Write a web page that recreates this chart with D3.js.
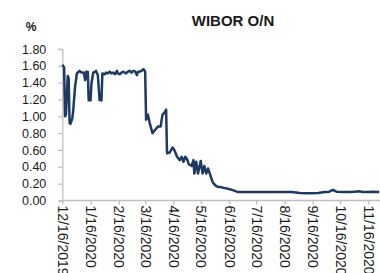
<!DOCTYPE html>
<html><head><meta charset="utf-8">
<script src="https://cdn.jsdelivr.net/npm/d3@7"></script>
<style>
html,body{margin:0;padding:0;background:#fff;overflow:hidden;}
svg{display:block;font-family:"Liberation Sans",Arial,sans-serif;}
</style></head>
<body>
<svg id="chart" width="380" height="273"></svg>
<script>
const title = "WIBOR O/N";
const unitLabel = "%";
const dates = [
"2019-12-16","2019-12-17","2019-12-18","2019-12-19","2019-12-20","2019-12-22","2019-12-23","2019-12-24","2019-12-25","2019-12-27","2019-12-28","2019-12-30",
"2020-01-01","2020-01-03","2020-01-04","2020-01-06","2020-01-08","2020-01-09","2020-01-10","2020-01-11","2020-01-12","2020-01-13","2020-01-14","2020-01-16","2020-01-17","2020-01-19","2020-01-21","2020-01-22","2020-01-24","2020-01-26","2020-01-27","2020-01-28","2020-01-29",
"2020-02-01","2020-02-02","2020-02-04","2020-02-06","2020-02-08","2020-02-10","2020-02-12","2020-02-14","2020-02-15","2020-02-17","2020-02-19","2020-02-21","2020-02-24","2020-02-26","2020-02-28",
"2020-03-01","2020-03-03","2020-03-05","2020-03-07","2020-03-08","2020-03-10","2020-03-12","2020-03-14","2020-03-15","2020-03-16","2020-03-17","2020-03-19","2020-03-21","2020-03-24","2020-03-27","2020-03-30",
"2020-04-02","2020-04-04","2020-04-06","2020-04-08","2020-04-09","2020-04-12","2020-04-15","2020-04-17","2020-04-20","2020-04-23","2020-04-25","2020-04-27","2020-04-29",
"2020-05-01","2020-05-03","2020-05-06","2020-05-08","2020-05-09","2020-05-11","2020-05-13","2020-05-16","2020-05-18","2020-05-20","2020-05-22","2020-05-24","2020-05-26","2020-05-29",
"2020-06-01","2020-06-04","2020-06-07","2020-06-10","2020-06-15","2020-06-21","2020-06-26",
"2020-07-02","2020-07-15","2020-07-28","2020-08-10","2020-08-17","2020-08-24","2020-09-02","2020-09-08","2020-09-13","2020-09-22","2020-09-29",
"2020-10-03","2020-10-08","2020-10-12","2020-10-20","2020-10-27","2020-11-01","2020-11-06","2020-11-10","2020-11-15","2020-11-21","2020-11-28"
];
const values = [
1.61,1.60,1.58,1.00,1.02,1.48,1.45,0.92,0.91,0.98,1.07,1.35,
1.51,1.53,1.54,1.52,1.52,1.50,1.43,1.53,1.45,1.53,1.19,1.19,1.39,1.52,1.53,1.54,1.49,1.19,1.22,1.19,1.51,
1.50,1.52,1.51,1.53,1.51,1.52,1.50,1.54,1.51,1.50,1.52,1.53,1.51,1.53,1.54,
1.52,1.54,1.53,1.49,1.53,1.53,1.54,1.56,1.55,1.53,0.96,1.02,0.92,0.80,0.84,0.88,
0.88,1.02,1.04,1.08,0.56,0.57,0.63,0.60,0.52,0.48,0.52,0.46,0.52,
0.49,0.43,0.41,0.48,0.32,0.46,0.32,0.47,0.32,0.41,0.32,0.38,0.32,0.22,
0.18,0.16,0.16,0.15,0.14,0.12,0.10,
0.10,0.10,0.10,0.10,0.10,0.10,0.09,0.085,0.085,0.09,0.10,
0.10,0.125,0.105,0.10,0.10,0.105,0.11,0.10,0.10,0.105,0.10
];
const yTicks = [0,0.2,0.4,0.6,0.8,1.0,1.2,1.4,1.6,1.8];
const xTickLabels = ["2019-12-16","2020-01-16","2020-02-16","2020-03-16","2020-04-16","2020-05-16","2020-06-16","2020-07-16","2020-08-16","2020-09-16","2020-10-16","2020-11-16"];

const parse = d3.timeParse("%Y-%m-%d");
const data = dates.map((d,i)=>({date:parse(d), v:values[i]}));
const svg = d3.select("#chart");

const x = d3.scaleTime().domain([parse("2019-12-16"), parse("2020-11-16")]).range([62.3, 368.3]);
const y = d3.scaleLinear().domain([0,1.8]).range([200.5, 49]);
const axisColor = "#bfbfbf";

// y axis
const ya = svg.append("g").attr("transform","translate(62.3,0)")
  .call(d3.axisLeft(y).tickValues(yTicks).tickSize(4).tickPadding(12).tickFormat(d3.format(".2f")));
ya.select(".domain").attr("stroke",axisColor).attr("stroke-width",1.3);
ya.selectAll(".tick line").attr("stroke",axisColor).attr("stroke-width",1.3);
ya.selectAll("text").attr("font-size","12.5px").attr("fill","#1a1a1a").attr("font-family","'Liberation Sans',Arial,sans-serif");

// x axis
const xa = svg.append("g").attr("transform","translate(0,200.5)")
  .call(d3.axisBottom(x).tickValues(xTickLabels.map(parse)).tickSize(4).tickSizeOuter(0).tickFormat(d3.timeFormat("%-m/%-d/%Y")));
xa.select(".domain").attr("stroke",axisColor).attr("stroke-width",1.3).attr("d","M62.3,0H400");
xa.selectAll(".tick line").attr("stroke",axisColor).attr("stroke-width",1.3);
xa.selectAll("text")
  .attr("font-size","14px").attr("fill","#1a1a1a").attr("font-family","'Liberation Sans',Arial,sans-serif")
  .attr("transform","rotate(90)").attr("text-anchor","start").attr("x",5).attr("y",0).attr("dy","0.35em");

// line
svg.append("path").datum(data)
  .attr("fill","none").attr("stroke","#1c3a64").attr("stroke-width",2.5).attr("stroke-linejoin","round")
  .attr("d", d3.line().x(d=>x(d.date)).y(d=>y(d.v)));

// title
svg.append("text").attr("x",233).attr("y",26).attr("text-anchor","middle")
  .attr("font-size","15px").attr("font-weight","bold").attr("fill","#1a1a1a").text(title);
svg.append("text").attr("x",31).attr("y",30.5).attr("text-anchor","middle")
  .attr("font-size","12px").attr("font-weight","bold").attr("fill","#1a1a1a").text(unitLabel);
</script>
</body></html>
